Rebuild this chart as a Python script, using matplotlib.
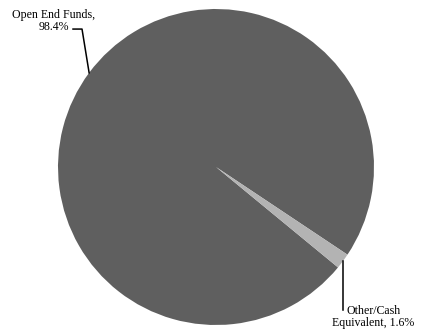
import numpy as np
import matplotlib
matplotlib.use("Agg")
import matplotlib.pyplot as plt

# Portfolio allocation
categories = ["Open End Funds", "Other/Cash\nEquivalent"]
label_text = ["Open End Funds,\n98.4%", "Other/Cash\nEquivalent, 1.6%"]
shares = [98.4, 1.6]
colors = ["#5f5f5f", "#b3b3b3"]

W, H = 421, 332
fig = plt.figure(figsize=(W / 100, H / 100), dpi=100)
plt.rcParams["font.family"] = ["Liberation Serif", "DejaVu Serif"]

# pie centre and radius in pixels
cx, cy, r = 216, 165, 158
ax = fig.add_axes([(cx - r) / W, (cy - r) / H, 2 * r / W, 2 * r / H])
wedges, _ = ax.pie(shares, colors=colors, startangle=-33.7, radius=1,
                   wedgeprops=dict(linewidth=0))
ax.set_xlim(-1, 1)
ax.set_ylim(-1, 1)
ax.set_aspect("equal")
ax.axis("off")

def rim(w):
    a = np.deg2rad((w.theta1 + w.theta2) / 2)
    return np.cos(a), np.sin(a)

lw = 1.1
# Open End Funds label: leader from rim up to an elbow, then left
x0, y0 = rim(wedges[0])
ex, ey = -0.848, 0.873
ax.plot([x0, ex, -0.905], [y0, ey, ey], color="black", lw=lw, clip_on=False)
ax.text(-1.028, 0.925, label_text[0], ha="center", va="center",
        fontsize=8.6, linespacing=1.05, clip_on=False)

# Other/Cash label: vertical leader down from the rim
x1, y1 = rim(wedges[1])
ax.plot([x1, x1], [y1, -0.905], color="black", lw=lw, clip_on=False)
ax.text(0.995, -0.95, label_text[1], ha="center", va="center",
        fontsize=8.6, linespacing=1.05, clip_on=False)

fig.savefig("out.png", dpi=100)
